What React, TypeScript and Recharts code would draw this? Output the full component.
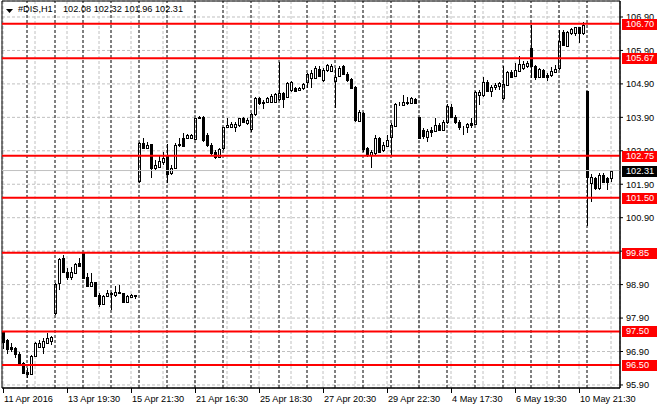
import React from 'react';
import {
  ComposedChart,
  Bar,
  XAxis,
  YAxis,
  CartesianGrid,
  ReferenceLine,
  ReferenceArea,
} from 'recharts';

// #DIS H1, 11 Apr - 10 May 2016
const opens = [
  97.49, 97.24, 97.02, 96.99, 96.83, 96.55, 96.3, 96.23, 96.77, 97.02, 97.04, 97.16, 97.22,
  98.04, 98.94, 99.69, 99.29, 99.12, 99.26, 99.54, 99.84, 99.12, 98.86, 98.99, 98.59, 98.32,
  98.56, 98.64, 98.59, 98.69, 98.64, 98.39, 98.52, 98.57, 101.99, 103.12, 102.99, 103.09,
  102.38, 102.43, 102.58, 102.77, 102.23, 102.4, 103.07, 103.29, 103.27, 103.28, 103.25,
  103.92, 103.92, 103.37, 103.07, 102.85, 102.72, 102.97, 103.62, 103.62, 103.62, 103.67,
  103.87, 103.72, 103.55, 103.99, 104.47, 104.32, 104.35, 104.37, 104.37, 104.45, 104.62,
  104.52, 104.72, 104.77, 104.72, 104.77, 104.95, 105.07, 105.07, 105.35, 105.02, 105.32,
  105.29, 105.0, 105.15, 105.44, 105.21, 105.05, 104.82, 103.8, 104.04, 102.97, 102.77,
  102.82, 103.27, 102.92, 103.04, 103.32, 103.64, 104.3, 104.27, 104.37, 104.32, 104.44,
  103.92, 103.52, 103.32, 103.52, 103.5, 103.67, 103.52, 103.75, 104.22, 103.92, 103.77,
  103.62, 103.6, 103.72, 103.69, 104.57, 104.57, 104.97, 104.69, 104.82, 104.84, 104.47,
  104.87, 105.25, 105.15, 105.29, 105.39, 105.44, 105.96, 105.42, 105.12, 105.31, 105.17,
  105.16, 105.26, 105.37, 106.46, 106.03, 106.41, 106.43, 106.59, 106.43, 104.7, 101.95,
  102.08, 101.78, 102.18, 102.08, 102.08,
];
const highs = [
  97.49, 97.26, 97.14, 97.04, 96.9, 96.6, 96.4, 96.8, 97.19, 97.24, 97.29, 97.44, 97.36,
  98.94, 99.69, 99.79, 99.39, 99.44, 99.54, 99.69, 99.85, 99.24, 99.24, 98.99, 98.64, 98.59,
  98.74, 98.69, 98.86, 98.89, 98.64, 98.59, 98.62, 98.6, 103.17, 103.29, 103.15, 103.09,
  102.63, 102.77, 102.87, 103.09, 102.48, 103.12, 103.27, 103.42, 103.39, 103.4, 103.89,
  103.95, 103.95, 103.42, 103.12, 102.92, 102.97, 103.62, 103.87, 103.75, 103.77, 103.89,
  103.92, 103.87, 104.02, 104.52, 104.52, 104.42, 104.52, 104.59, 104.62, 105.56, 104.65,
  104.95, 104.99, 104.82, 104.82, 104.92, 105.22, 105.32, 105.42, 105.42, 105.37, 105.49,
  105.49, 105.37, 105.42, 105.47, 105.27, 105.09, 104.85, 104.12, 104.07, 103.02, 102.92,
  103.37, 103.32, 103.17, 103.37, 103.72, 104.32, 104.37, 104.57, 104.52, 104.52, 104.47,
  103.92, 103.57, 103.54, 103.62, 103.87, 103.74, 103.82, 104.3, 104.29, 103.97, 103.82,
  103.63, 103.72, 103.87, 104.69, 104.72, 105.12, 105.02, 104.87, 104.92, 104.97, 105.42,
  105.29, 105.32, 105.52, 105.72, 105.57, 105.57, 106.66, 105.47, 105.39, 105.36, 105.22,
  105.41, 105.46, 106.51, 106.51, 106.49, 106.56, 106.61, 106.61, 106.76, 104.7, 102.22,
  102.13, 102.23, 102.23, 102.13, 102.32,
];
const lows = [
  96.96, 96.83, 96.9, 96.7, 96.5, 96.23, 96.1, 96.2, 96.75, 96.99, 96.83, 97.14, 97.09,
  98.0, 98.74, 99.26, 99.04, 99.04, 99.24, 99.44, 99.06, 98.82, 98.84, 98.54, 98.24, 98.32,
  98.54, 98.14, 98.54, 98.62, 98.36, 98.39, 98.49, 98.46, 101.93, 102.95, 102.97, 102.08,
  102.33, 102.4, 102.48, 101.93, 102.18, 102.38, 103.02, 103.02, 103.25, 103.24, 103.22,
  103.85, 103.17, 103.02, 102.77, 102.65, 102.7, 102.92, 103.6, 103.58, 103.47, 103.62,
  103.72, 103.67, 103.47, 103.95, 104.27, 104.15, 104.32, 104.35, 104.33, 104.4, 104.17,
  104.49, 104.67, 104.65, 104.69, 104.72, 104.77, 104.77, 105.05, 105.12, 104.97, 105.27,
  105.25, 104.17, 105.12, 105.17, 104.97, 104.75, 103.77, 103.77, 102.87, 102.71, 102.38,
  102.77, 102.82, 102.87, 103.0, 102.74, 103.62, 104.24, 104.24, 104.27, 104.3, 104.3,
  103.24, 103.24, 103.17, 103.32, 103.47, 103.5, 103.5, 103.7, 103.87, 103.69, 103.52,
  103.37, 103.42, 103.57, 103.67, 104.27, 104.52, 104.65, 104.52, 104.72, 104.72, 104.42,
  104.85, 105.07, 105.12, 105.27, 105.32, 105.37, 105.07, 105.02, 105.07, 105.07, 105.0,
  105.12, 105.22, 105.33, 106.03, 106.01, 106.36, 106.33, 106.11, 106.36, 100.65, 101.38,
  101.73, 101.73, 101.93, 101.73, 101.96,
];
const closes = [
  97.19, 96.96, 96.96, 96.83, 96.55, 96.27, 96.23, 96.77, 97.14, 97.14, 97.21, 97.29, 97.34,
  98.92, 99.66, 99.29, 99.12, 99.29, 99.51, 99.46, 99.09, 98.86, 98.99, 98.56, 98.32, 98.56,
  98.66, 98.62, 98.68, 98.64, 98.39, 98.56, 98.59, 98.58, 103.12, 102.97, 103.07, 102.38,
  102.48, 102.6, 102.68, 102.2, 102.4, 103.07, 103.1, 103.05, 103.37, 103.37, 103.87,
  103.87, 103.22, 103.07, 102.82, 102.72, 102.95, 103.6, 103.67, 103.69, 103.69, 103.87,
  103.77, 103.82, 103.99, 104.49, 104.32, 104.37, 104.49, 104.55, 104.59, 104.62, 104.45,
  104.92, 104.95, 104.69, 104.79, 104.89, 105.19, 105.22, 105.37, 105.15, 105.32, 105.45,
  105.43, 105.12, 105.39, 105.21, 105.02, 104.77, 103.82, 104.07, 102.94, 102.77, 102.87,
  103.27, 102.87, 103.07, 103.22, 103.67, 104.3, 104.31, 104.37, 104.32, 104.47, 104.32,
  103.27, 103.34, 103.5, 103.47, 103.67, 103.52, 103.77, 104.25, 103.92, 103.75, 103.62,
  103.6, 103.69, 103.67, 104.65, 104.67, 104.97, 104.69, 104.82, 104.87, 104.92, 104.89,
  105.25, 105.12, 105.32, 105.49, 105.49, 105.51, 105.42, 105.12, 105.34, 105.12, 105.12,
  105.29, 105.36, 106.19, 106.06, 106.46, 106.53, 106.59, 106.43, 106.66, 102.11, 102.12,
  101.78, 102.18, 101.98, 101.98, 102.31,
];

const tickBars = [0, 16, 32, 48, 64, 80, 96, 112, 128, 144];
const tickLabels = [
  '11 Apr 2016', '13 Apr 19:30', '15 Apr 21:30', '21 Apr 16:30', '25 Apr 18:30',
  '27 Apr 20:30', '29 Apr 22:30', '4 May 17:30', '6 May 19:30', '10 May 21:30',
];
const dayStarts = [6, 13, 20, 27, 34, 41, 48, 55, 62, 69, 76, 83, 90, 97, 104, 111, 118, 125, 132, 139, 146];
const priceTicks = [95.9, 96.9, 97.9, 98.9, 99.9, 100.9, 101.9, 102.9, 103.9, 104.9, 105.9, 106.9];
const levels = [106.7, 105.67, 102.75, 101.5, 99.85, 97.5, 96.5];
const lastPrice = 102.31;

const data = opens.map((o, i) => ({ i, open: o, high: highs[i], low: lows[i], close: closes[i] }));
const gridBars = Array.from({ length: 20 }, (_, k) => k * 8);
const tagValues = [lastPrice, ...levels];

const FONT = '"Liberation Sans", Arial, sans-serif';
const FS = 9.2;
const Y_MIN = 95.809;
const Y_MAX = 107.378;
const X_MIN = -0.25;
const X_MAX = 154.25;
const PLOT_RIGHT = 620;

const Candle = (props: any) => {
  const { x, y, width, height, payload } = props;
  const top = Math.min(y, y + height);
  const bot = Math.max(y, y + height);
  const { open, close, high, low } = payload;
  const span = high - low || 1;
  const py = (v: number) => top + ((high - v) / span) * (bot - top);
  const cx = Math.round(x + width / 2) + 0.5;
  const yo = py(open);
  const yc = py(close);
  const bTop = Math.round(Math.min(yo, yc)) + 0.5;
  const bBot = Math.max(Math.round(Math.max(yo, yc)) + 0.5, bTop);
  const up = close >= open;
  return (
    <g shapeRendering="crispEdges">
      <line x1={cx} x2={cx} y1={top} y2={bot} stroke="#000" />
      <rect x={cx - 1} y={bTop} width={2} height={bBot - bTop} fill={up ? '#fff' : '#000'} stroke="#000" />
    </g>
  );
};

const XTick = (props: any) => {
  const { x, payload } = props;
  const k = tickBars.indexOf(payload.value);
  if (k < 0) return null;
  return (
    <g>
      <line x1={x + 0.5} x2={x + 0.5} y1={388} y2={393} stroke="#000" />
      <text x={x + 1} y={402} fontSize={FS} fontFamily={FONT} fill="#000">
        {tickLabels[k]}
      </text>
    </g>
  );
};

const YTick = (props: any) => {
  const { x, y, payload } = props;
  return (
    <text x={x + 1} y={y} dy={3.3} fontSize={FS} fontFamily={FONT} fill="#000">
      {payload.value.toFixed(2)}
    </text>
  );
};

// price tags drawn by a second, thin price axis so they sit over the tick labels
const TagTick = (props: any) => {
  const { y, payload } = props;
  const v = payload.value;
  const bg = v === lastPrice ? '#000' : '#ff0000';
  const x = PLOT_RIGHT + 2;
  const cy = Math.round(y);
  return (
    <g>
      <rect x={x} y={cy - 5} width={35} height={11} fill={bg} />
      <text x={x + 4} y={cy} dy={3.3} fontSize={FS} fontFamily={FONT} fill="#fff">
        {v.toFixed(2)}
      </text>
    </g>
  );
};

export default function App() {
  return (
    <div style={{ position: 'absolute', left: 0, top: 0, width: 660, height: 410, background: '#fff', fontFamily: FONT }}>
      <ComposedChart width={660} height={410} data={data} margin={{ top: 1, right: 0, bottom: 0, left: 2 }}>
        <CartesianGrid stroke="#c0c0c0" strokeDasharray="3 2" />
        <XAxis
          dataKey="i"
          type="number"
          domain={[X_MIN, X_MAX]}
          ticks={gridBars}
          interval={0}
          allowDataOverflow
          tickLine={false}
          axisLine={{ stroke: '#000' }}
          height={22}
          tick={<XTick />}
        />
        <YAxis
          orientation="right"
          type="number"
          domain={[Y_MIN, Y_MAX]}
          ticks={priceTicks}
          interval={0}
          allowDataOverflow
          width={39}
          tickSize={3}
          tickMargin={2}
          tickLine={{ stroke: '#000' }}
          axisLine={{ stroke: '#000' }}
          tick={<YTick />}
        />
        <YAxis
          yAxisId="tags"
          orientation="right"
          type="number"
          domain={[Y_MIN, Y_MAX]}
          ticks={tagValues}
          interval={0}
          allowDataOverflow
          width={1}
          tickSize={0}
          axisLine={false}
          tickLine={false}
          tick={<TagTick />}
        />
        {dayStarts.map((b) => (
          <ReferenceLine key={`d${b}`} x={b} stroke="#000" strokeDasharray="3 2" />
        ))}
        <ReferenceLine y={lastPrice} stroke="#c0c0c0" />
        <Bar dataKey={(d: any) => [d.low, d.high]} shape={<Candle />} barSize={3} isAnimationActive={false} />
        {levels.map((lv) => (
          <ReferenceLine key={`l${lv}`} y={lv} stroke="#ff0000" strokeWidth={2} />
        ))}
        <ReferenceArea x1={X_MIN} x2={X_MAX} y1={Y_MIN} y2={Y_MAX} fill="none" stroke="#000" ifOverflow="visible" />
      </ComposedChart>
      <div style={{ position: 'absolute', left: 0, top: 4, fontSize: FS, lineHeight: '11px', whiteSpace: 'pre', color: '#000' }}>
        <svg width={8} height={5} style={{ position: 'absolute', left: 6, top: 5 }}>
          <polygon points="0,0 7,0 3.5,4" fill="#000" />
        </svg>
        <span style={{ position: 'absolute', left: 18 }}>#DIS,H1</span>
        <span style={{ position: 'absolute', left: 63 }}>102.08 102.32 101.96 102.31</span>
      </div>
    </div>
  );
}
